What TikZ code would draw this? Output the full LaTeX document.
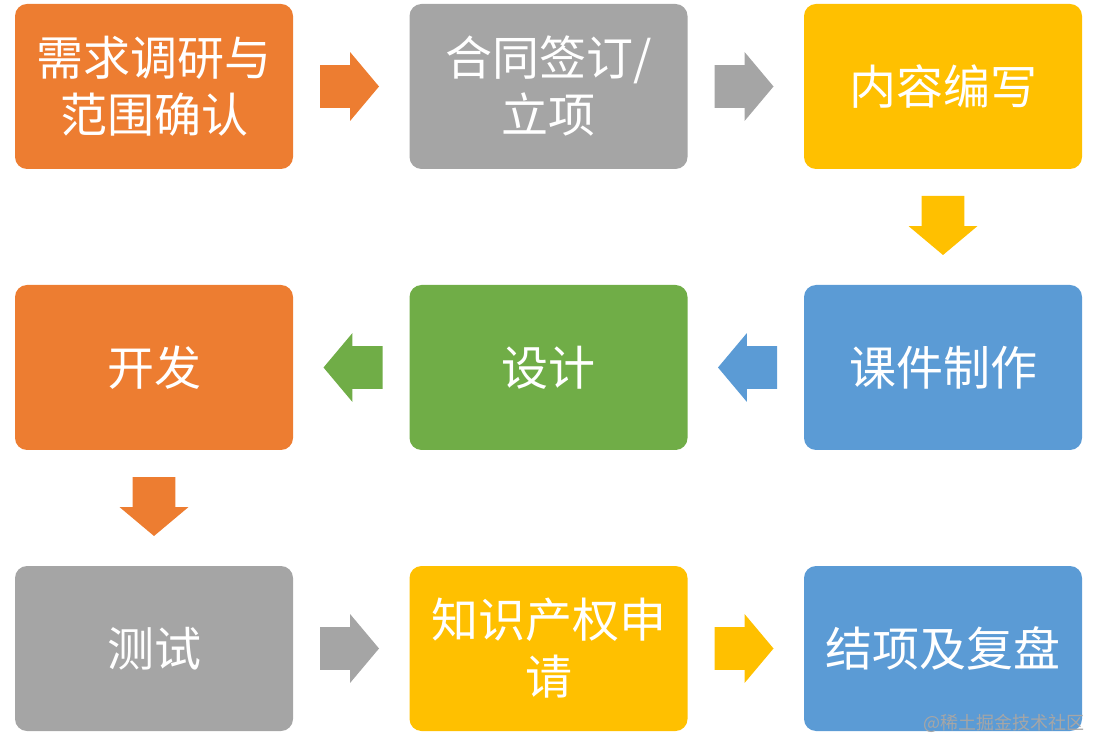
\documentclass[tikz,border=0pt]{standalone}
\usepackage{fontspec}
\setmainfont{Noto Sans CJK SC}
\usetikzlibrary{positioning,calc,shapes.arrows}
\definecolor{ofOrange}{HTML}{ED7D31}
\definecolor{ofGray}{HTML}{A5A5A5}
\definecolor{ofGold}{HTML}{FFC000}
\definecolor{ofBlue}{HTML}{5B9BD5}
\definecolor{ofGreen}{HTML}{70AD47}

\begin{document}
\begin{tikzpicture}[
      box/.style={rounded corners=6pt,minimum width=139pt,minimum height=82.5pt,inner sep=0pt,outer sep=0pt,
        align=center,text=white,font=\fontsize{23.5}{28.5}\selectfont},
      blk/.style={single arrow,anchor=tail,minimum height=29.5pt,inner xsep=0pt,inner ysep=10.5pt,outer sep=0pt,
        single arrow head extend=6.5pt,single arrow tip angle=100}]
    \useasboundingbox (0,0) rectangle (548pt,-371pt);
    % first row
    \node[box,fill=ofOrange] (xq) at (77pt,-43.25pt) {需求调研与\\范围确认};
    \node[box,fill=ofGray,right=58.25pt of xq] (ht) {合同签订/\\立项};
    \node[box,fill=ofGold,right=58.25pt of ht] (nr) {内容编写};
    % second row
    \node[box,fill=ofBlue,below=58pt of nr] (kj) {课件制作};
    \node[box,fill=ofGreen,left=58.25pt of kj] (sj) {设计};
    \node[box,fill=ofOrange,left=58.25pt of sj] (kf) {开发};
    % third row
    \node[box,fill=ofGray,below=58pt of kf] (cs) {测试};
    \node[box,fill=ofGold,right=58.25pt of cs] (zs) {知识产权申\\请};
    \node[box,fill=ofBlue,right=58.25pt of zs] (jx) {结项及复盘};
    % block arrows
    \node[blk,fill=ofOrange] (a1) at ($(xq.east)!13.5pt!(ht.west)$) {};
    \node[blk,fill=ofGray] (a2) at ($(ht.east)!13.5pt!(nr.west)$) {};
    \node[blk,fill=ofGold,rotate=-90] (a3) at ($(nr.south)!13.5pt!(kj.north)$) {};
    \node[blk,fill=ofBlue,rotate=180] (a4) at ($(kj.west)!13.5pt!(sj.east)$) {};
    \node[blk,fill=ofGreen,rotate=180] (a5) at ($(sj.west)!13.5pt!(kf.east)$) {};
    \node[blk,fill=ofOrange,rotate=-90] (a6) at ($(kf.south)!13.5pt!(cs.north)$) {};
    \node[blk,fill=ofGray] (a7) at ($(cs.east)!13.5pt!(zs.west)$) {};
    \node[blk,fill=ofGold] (a8) at ($(zs.east)!13.5pt!(jx.west)$) {};
    \node[anchor=east,text=black!35,font=\fontsize{9}{9}\selectfont] (wm) at (546pt,-361.5pt) {@稀土掘金技术社区};
  \end{tikzpicture}
\end{document}
